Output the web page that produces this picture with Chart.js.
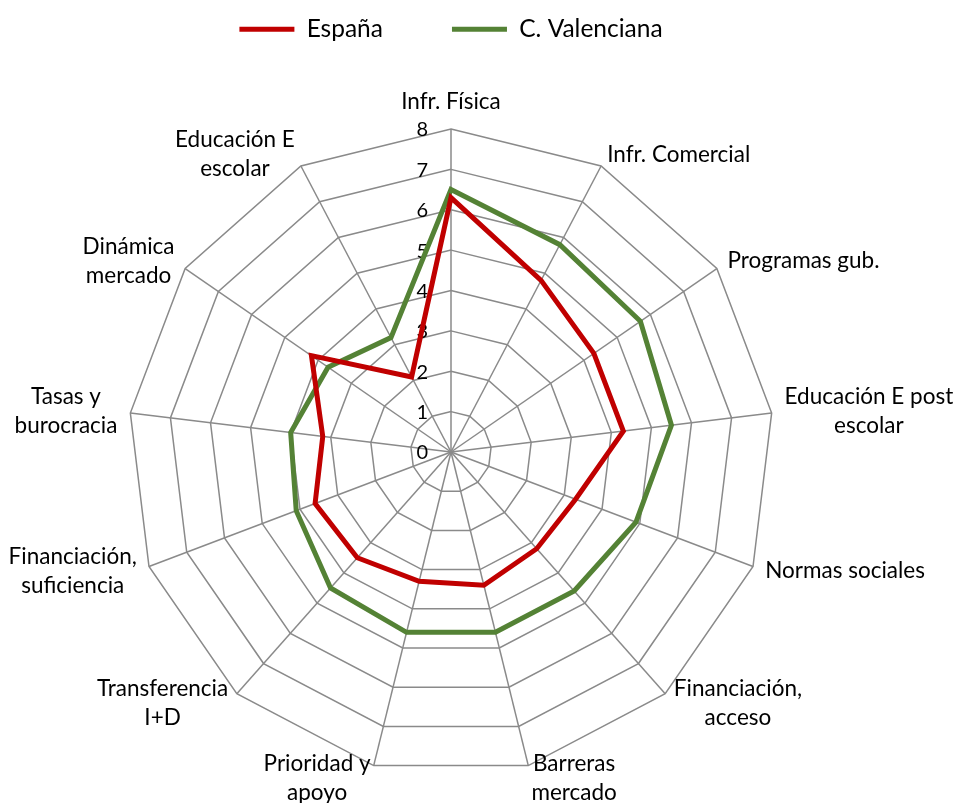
<!DOCTYPE html>
<html>
<head>
<meta charset="utf-8">
<script src="https://cdn.jsdelivr.net/npm/chart.js@4/dist/chart.umd.min.js"></script>
<style>
  html, body { margin: 0; padding: 0; background: #fff; }
  #wrap { width: 953px; height: 803px; }
</style>
</head>
<body>
<div id="wrap"><canvas id="chartRadar"></canvas></div>
<script>
// Data
const categories = [
  "Infr. Física",
  "Infr. Comercial",
  "Programas gub.",
  ["Educación E post", "escolar"],
  "Normas sociales",
  ["Financiación,", "acceso"],
  ["Barreras", "mercado"],
  ["Prioridad y", "apoyo"],
  ["Transferencia", "I+D"],
  ["Financiación,", "suficiencia"],
  ["Tasas y", "burocracia"],
  ["Dinámica", "mercado"],
  ["Educación E", "escolar"]
];
const espana = [6.3, 4.8, 4.3, 4.3, 3.3, 3.2, 3.4, 3.3, 3.5, 3.6, 3.2, 4.2, 2.1];
const valenciana = [6.5, 5.8, 5.7, 5.5, 4.9, 4.6, 4.6, 4.6, 4.5, 4.1, 4.0, 3.7, 3.2];
const scaleMin = 0;
const scaleMax = 8;
const scaleStep = 1;

const fontFamily = "Lato, 'Liberation Sans', sans-serif";
const labelSize = 22.5;
const labelLineH = 28.5;
const labelGap = 13;

// tick numbers sit left of the vertical axis, like the original
const tickLabels = {
  id: "tickLabels",
  beforeDatasetsDraw(chart) {
    const r = chart.scales.r;
    const ctx = chart.ctx;
    ctx.save();
    ctx.font = "20px " + fontFamily;
    ctx.fillStyle = "#000";
    ctx.textAlign = "right";
    ctx.textBaseline = "middle";
    r.ticks.forEach((t) => {
      const d = r.getDistanceFromCenterForValue(t.value);
      ctx.fillText(t.label, r.xCenter - 23, r.yCenter - d + 1);
    });
    ctx.restore();
  },
};

// category labels, lines centred like Excel does it
const axisLabels = {
  id: "axisLabels",
  afterDatasetsDraw(chart) {
    const r = chart.scales.r;
    const ctx = chart.ctx;
    ctx.save();
    ctx.font = labelSize + "px " + fontFamily;
    ctx.fillStyle = "#000";
    ctx.textAlign = "center";
    ctx.textBaseline = "middle";
    chart.data.labels.forEach((label, i) => {
      const lines = [].concat(label);
      const p = r.getPointPosition(i, r.drawingArea + labelGap);
      const dx = p.x - r.xCenter;
      const dy = p.y - r.yCenter;
      const w = Math.max(...lines.map((l) => ctx.measureText(l).width));
      const h = lines.length * labelLineH;
      let cx = p.x;
      let cy = p.y;
      if (Math.abs(dx) < 1) {
        cy = dy < 0 ? p.y - h / 2 : p.y + h / 2;
      } else {
        cx = dx > 0 ? p.x + w / 2 : p.x - w / 2;
      }
      lines.forEach((l, k) => {
        ctx.fillText(l, cx, cy - h / 2 + labelLineH * (k + 0.5));
      });
    });
    ctx.restore();
  },
};

const chartRadar = document.getElementById("chartRadar");
new Chart(chartRadar, {
  type: "radar",
  data: {
    labels: categories,
    datasets: [
      {
        label: "España",
        data: espana,
        borderColor: "#C00000",
        backgroundColor: "#C00000",
        borderWidth: 5,
        borderCapStyle: "round",
        fill: false,
        pointRadius: 0,
      },
      {
        label: "C. Valenciana",
        data: valenciana,
        borderColor: "#548235",
        backgroundColor: "#548235",
        borderWidth: 5,
        borderCapStyle: "round",
        fill: false,
        pointRadius: 0,
      },
    ],
  },
  options: {
    responsive: true,
    maintainAspectRatio: false,
    animation: false,
    layout: { padding: { top: -52, bottom: 0, left: 128, right: 179 } },
    plugins: {
      tooltip: { enabled: false },
      legend: {
        position: "top",
        labels: {
          usePointStyle: true,
          pointStyle: "line",
          pointStyleWidth: 55,
          padding: 69,
          color: "#000",
          font: { family: fontFamily, size: 24.5 },
        },
      },
      // empty spacer between legend and plot
      subtitle: {
        display: true,
        text: " ",
        position: "top",
        weight: 500,
        font: { size: 10, lineHeight: 1 },
        padding: { top: 0, bottom: 40 },
      },
    },
    scales: {
      r: {
        min: scaleMin,
        max: scaleMax,
        beginAtZero: true,
        ticks: { stepSize: scaleStep, display: false },
        grid: { color: "#8a8a8a", lineWidth: 1.5, circular: false },
        angleLines: { color: "#8a8a8a", lineWidth: 1.5 },
        pointLabels: { display: false },
      },
    },
  },
  plugins: [tickLabels, axisLabels],
});
</script>
</body>
</html>
